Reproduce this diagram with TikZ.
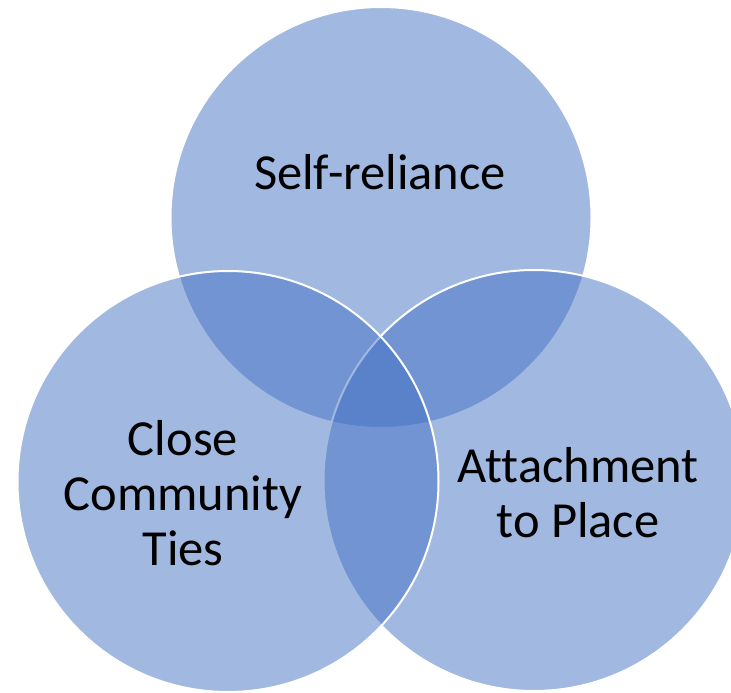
\documentclass[tikz,border=0pt]{standalone}
\usepackage{fontspec}
\setmainfont[Ligatures={NoCommon}]{Carlito}
\definecolor{vennblue}{HTML}{4472C4}
\begin{document}
\begin{tikzpicture}[x=1pt,y=-1pt,
  venn/.style={fill=vennblue,fill opacity=0.5,draw=white,draw opacity=1,line width=2pt},
  lbl/.style={inner sep=0pt,align=center,font=\fontsize{50.5}{55}\selectfont,text=black,anchor=base}]
\useasboundingbox (0,0) rectangle (731,693);
\fill[white] (0,0) rectangle (731,693);
\draw[venn] (381,217.5) circle[radius=210.5];
\draw[venn] (534,480.5) circle[radius=210.5];
\draw[venn] (228,481.5) circle[radius=210.5];
\node[lbl] (self) at (380,189) {Self-reliance};
\node[lbl] (close) at (183,565) {Close\\Community\\Ties};
\node[lbl] (attach) at (578,537) {Attachment\\to Place};
\end{tikzpicture}
\end{document}
